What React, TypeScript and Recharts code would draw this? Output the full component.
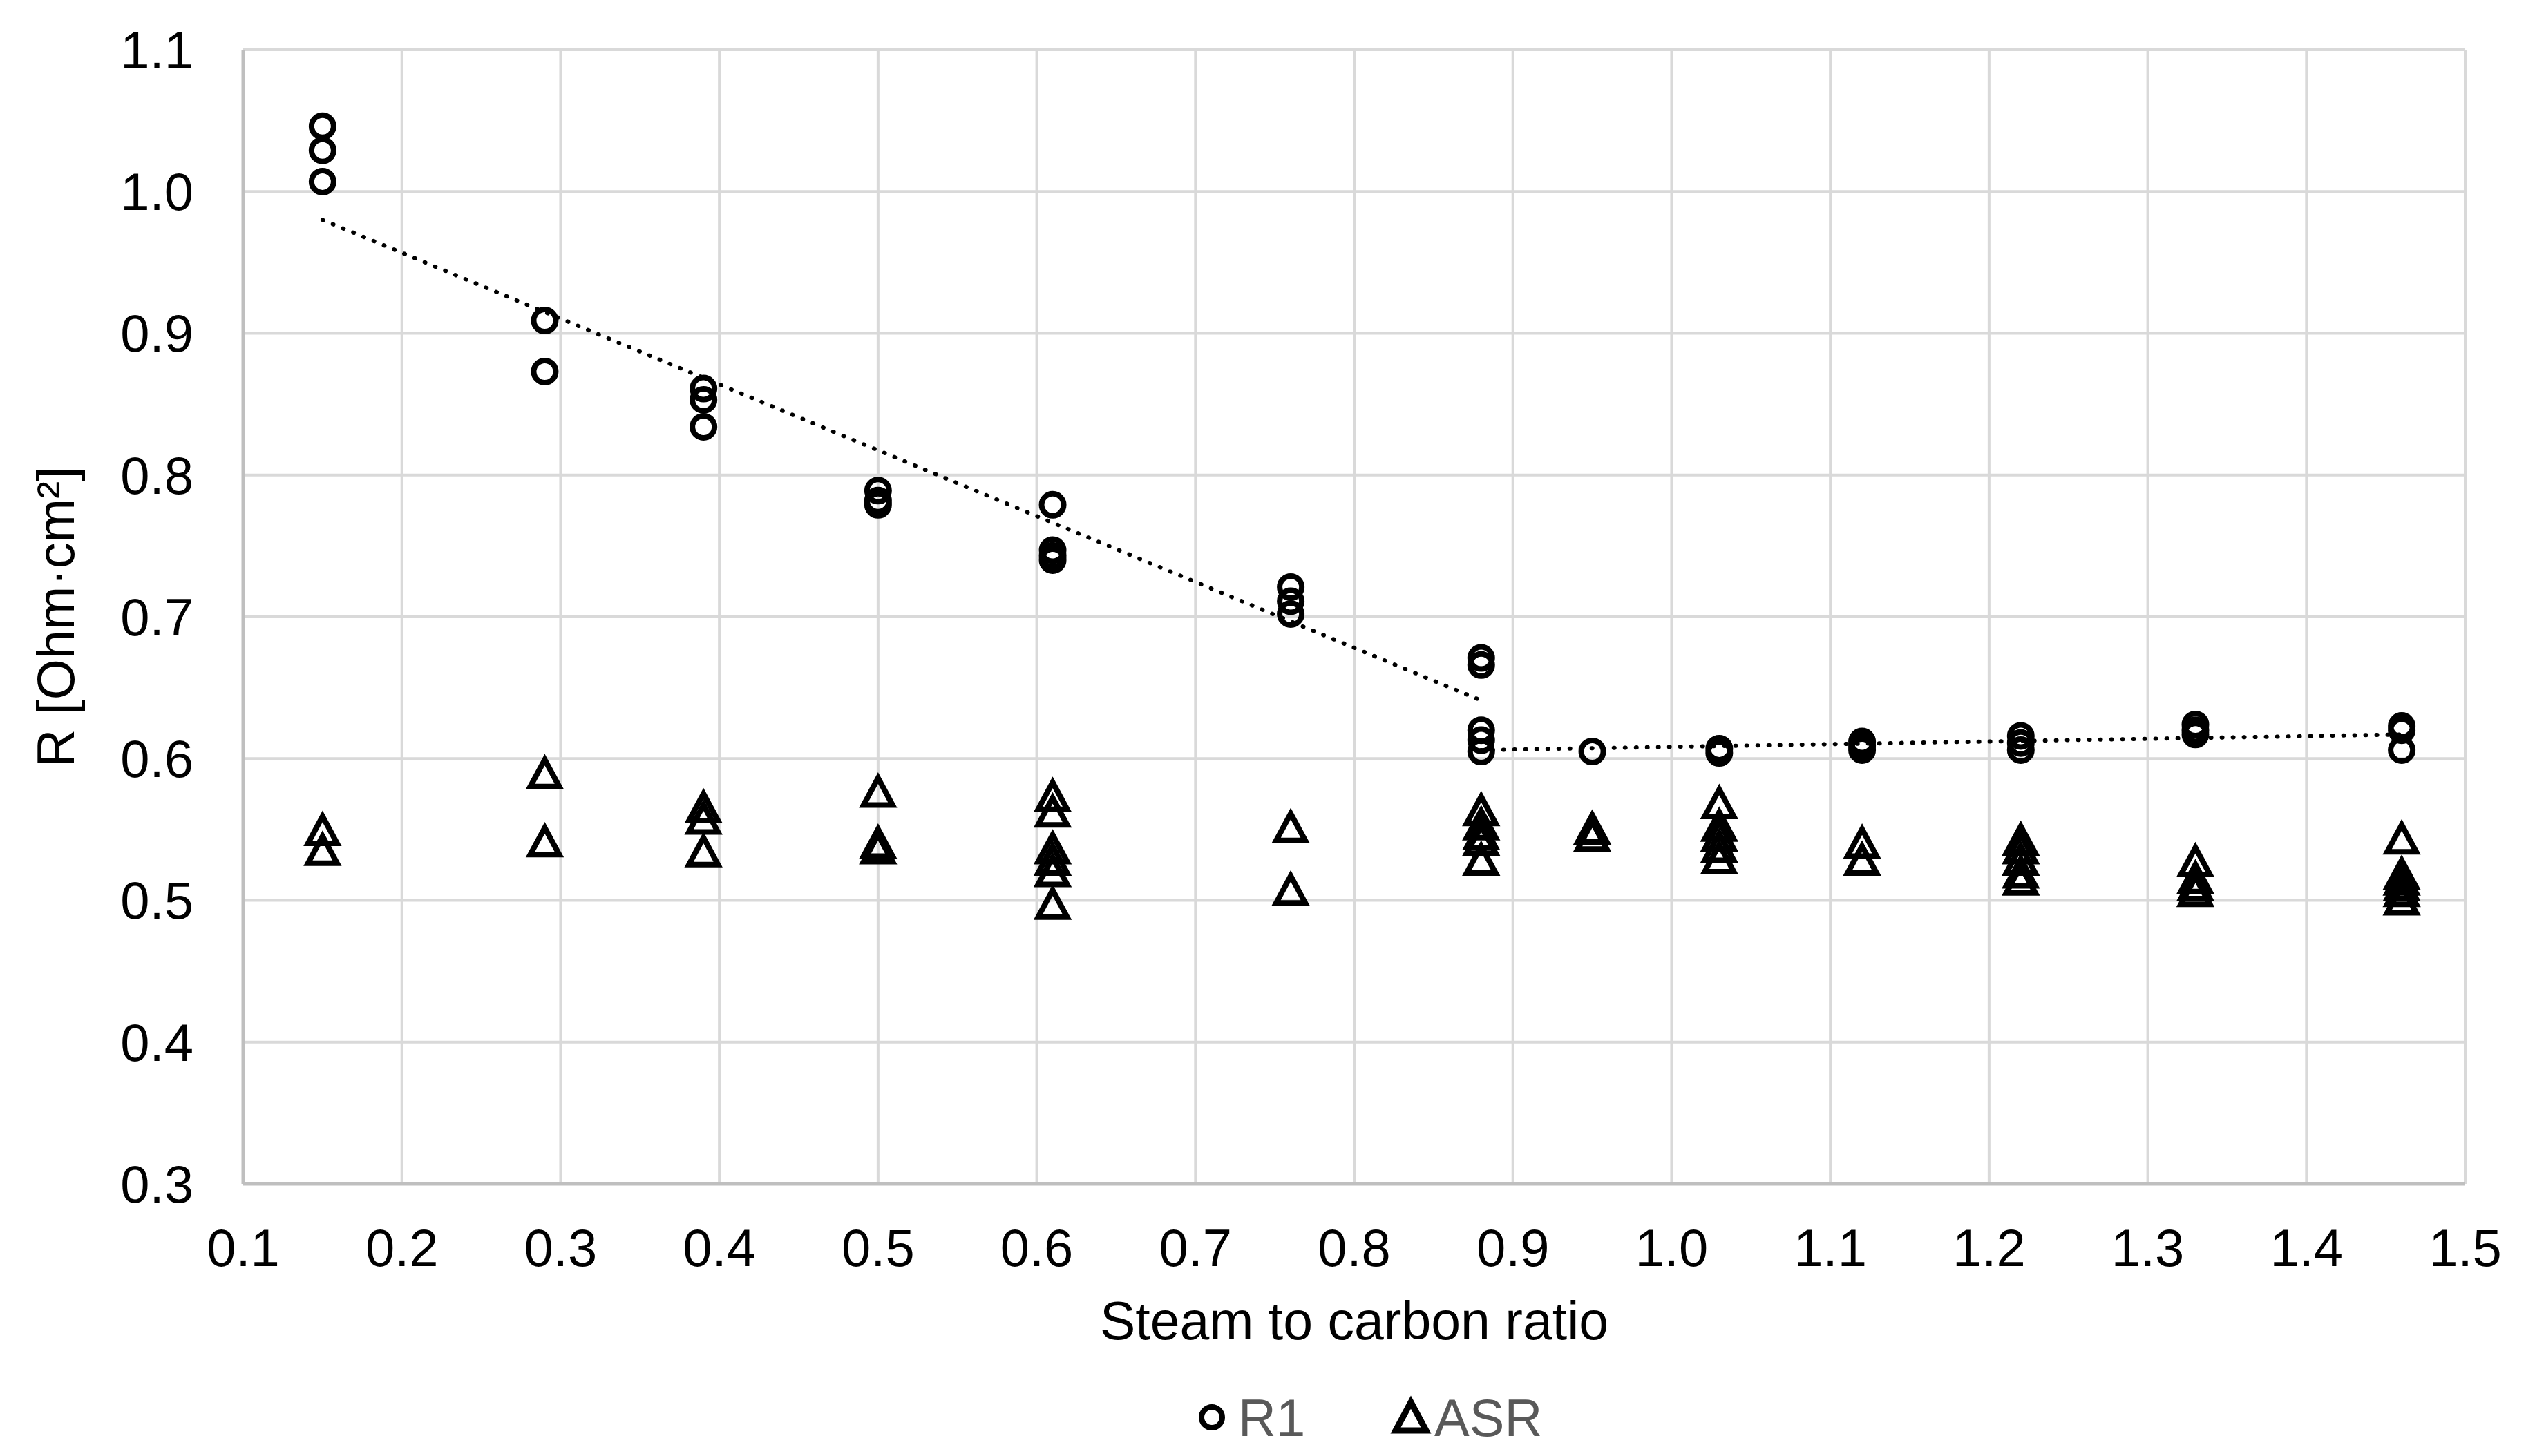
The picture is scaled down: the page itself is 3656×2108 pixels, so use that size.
import { ScatterChart, Scatter, XAxis, YAxis, CartesianGrid, Label } from "recharts";

const r1X = [
  0.15, 0.15, 0.15,
  0.29, 0.29,
  0.39, 0.39, 0.39,
  0.5, 0.5, 0.5,
  0.61, 0.61, 0.61, 0.61,
  0.76, 0.76, 0.76,
  0.88, 0.88, 0.88, 0.88, 0.88,
  0.95,
  1.03, 1.03,
  1.12, 1.12, 1.12,
  1.22, 1.22, 1.22,
  1.33, 1.33, 1.33,
  1.46, 1.46, 1.46,
];
const r1Y = [
  1.046, 1.029, 1.007,
  0.909, 0.873,
  0.861, 0.853, 0.834,
  0.789, 0.782, 0.779,
  0.779, 0.747, 0.743, 0.74,
  0.721, 0.711, 0.702,
  0.671, 0.666, 0.62, 0.613, 0.605,
  0.605,
  0.607, 0.604,
  0.612, 0.609, 0.606,
  0.616, 0.611, 0.606,
  0.624, 0.62, 0.617,
  0.623, 0.62, 0.606,
];

const asrX = [
  0.15, 0.15,
  0.29, 0.29,
  0.39, 0.39, 0.39,
  0.5, 0.5, 0.5,
  0.61, 0.61, 0.61, 0.61, 0.61, 0.61,
  0.76, 0.76,
  0.88, 0.88, 0.88, 0.88, 0.88,
  0.95, 0.95,
  1.03, 1.03, 1.03, 1.03, 1.03,
  1.12, 1.12,
  1.22, 1.22, 1.22, 1.22, 1.22,
  1.33, 1.33, 1.33, 1.33,
  1.46, 1.46, 1.46, 1.46, 1.46, 1.46,
];
const asrY = [
  0.549, 0.535,
  0.589, 0.541,
  0.565, 0.557, 0.534,
  0.576, 0.54, 0.536,
  0.573, 0.562, 0.536, 0.528, 0.52, 0.497,
  0.551, 0.507,
  0.563, 0.553, 0.546, 0.542, 0.528,
  0.55, 0.545,
  0.568, 0.552, 0.545, 0.537, 0.529,
  0.54, 0.528,
  0.542, 0.536, 0.528, 0.519, 0.514,
  0.527, 0.515, 0.51, 0.506,
  0.543, 0.518, 0.514, 0.51, 0.506, 0.5,
];

// trendline end points
const trendFallX = [0.15, 0.88];
const trendFallY = [0.98, 0.641];
const trendFlatX = [0.88, 1.46];
const trendFlatY = [0.606, 0.617];

const xTicks = [0.1, 0.2, 0.3, 0.4, 0.5, 0.6, 0.7, 0.8, 0.9, 1.0, 1.1, 1.2, 1.3, 1.4, 1.5];
const yTicks = [0.3, 0.4, 0.5, 0.6, 0.7, 0.8, 0.9, 1.0, 1.1];

const zip = (xs: number[], ys: number[]) => xs.map((x, i) => ({ x, y: ys[i] }));

const r1Data = zip(r1X, r1Y);
const asrData = zip(asrX, asrY);
const fallData = zip(trendFallX, trendFallY);
const flatData = zip(trendFlatX, trendFlatY);

const FONT = '"Liberation Sans", Arial, sans-serif';
const W = 3656;
const H = 2108;

function CircleMark(props: any) {
  const { cx, cy } = props;
  return <circle cx={cx} cy={cy} r={16} fill="#fff" fillOpacity={0} stroke="#000" strokeWidth={8} />;
}

function TriangleMark(props: any) {
  const { cx, cy } = props;
  const d = `M${cx},${cy - 21} L${cx + 21},${cy + 18} L${cx - 21},${cy + 18} Z`;
  return <path d={d} fill="none" stroke="#000" strokeWidth={8} strokeLinejoin="miter" />;
}

const NoMark = () => <g />;

const trendLine = { stroke: "#000", strokeWidth: 6, strokeDasharray: "1 15", strokeLinecap: "round" as const };

function LegendRow() {
  return (
    <svg width={W} height={H} style={{ position: "absolute", left: 0, top: 0, pointerEvents: "none" }}>
      <circle cx={1754} cy={2052} r={15} fill="none" stroke="#000" strokeWidth={8} />
      <text x={1792} y={2052} dy="0.355em" fontSize={76} fontFamily={FONT} fill="#595959">
        R1
      </text>
      <path d="M2042,2030 L2064,2071 L2020,2071 Z" fill="none" stroke="#000" strokeWidth={9} />
      <text x={2076} y={2052} dy="0.355em" fontSize={76} fontFamily={FONT} fill="#595959">
        ASR
      </text>
    </svg>
  );
}

export default function App() {
  const tick = { fill: "#000", fontSize: 76, fontFamily: FONT };
  return (
    <div style={{ position: "absolute", left: 0, top: 0, width: W, height: H, background: "#fff", fontFamily: FONT }}>
      <ScatterChart width={W} height={H} margin={{ top: 72, right: 88, bottom: 154, left: 0 }}>
        <CartesianGrid stroke="#d9d9d9" strokeWidth={4} />
        <XAxis
          type="number"
          dataKey="x"
          domain={[0.1, 1.5]}
          ticks={xTicks}
          tickFormatter={(v: number) => v.toFixed(1)}
          tick={tick}
          tickLine={false}
          tickSize={0}
          tickMargin={65}
          axisLine={{ stroke: "#bfbfbf", strokeWidth: 5 }}
          height={240}
          allowDataOverflow
        >
          <Label
            value="Steam to carbon ratio"
            position="insideBottom"
            offset={15}
            style={{ fill: "#000", fontSize: 77, fontFamily: FONT }}
          />
        </XAxis>
        <YAxis
          type="number"
          dataKey="y"
          domain={[0.3, 1.1]}
          ticks={yTicks}
          tickFormatter={(v: number) => v.toFixed(1)}
          tick={tick}
          tickLine={false}
          tickSize={0}
          tickMargin={72}
          axisLine={{ stroke: "#bfbfbf", strokeWidth: 5 }}
          width={352}
          allowDataOverflow
        >
          <Label
            value="R [Ohm·cm²]"
            angle={-90}
            position="insideLeft"
            offset={80}
            style={{ fill: "#000", fontSize: 76, fontFamily: FONT, textAnchor: "middle" }}
          />
        </YAxis>
        <Scatter name="trend1" data={fallData} line={trendLine} shape={NoMark} isAnimationActive={false} />
        <Scatter name="trend2" data={flatData} line={trendLine} shape={NoMark} isAnimationActive={false} />
        <Scatter name="ASR" data={asrData} shape={TriangleMark} isAnimationActive={false} />
        <Scatter name="R1" data={r1Data} shape={CircleMark} isAnimationActive={false} />
      </ScatterChart>
      <LegendRow />
    </div>
  );
}
